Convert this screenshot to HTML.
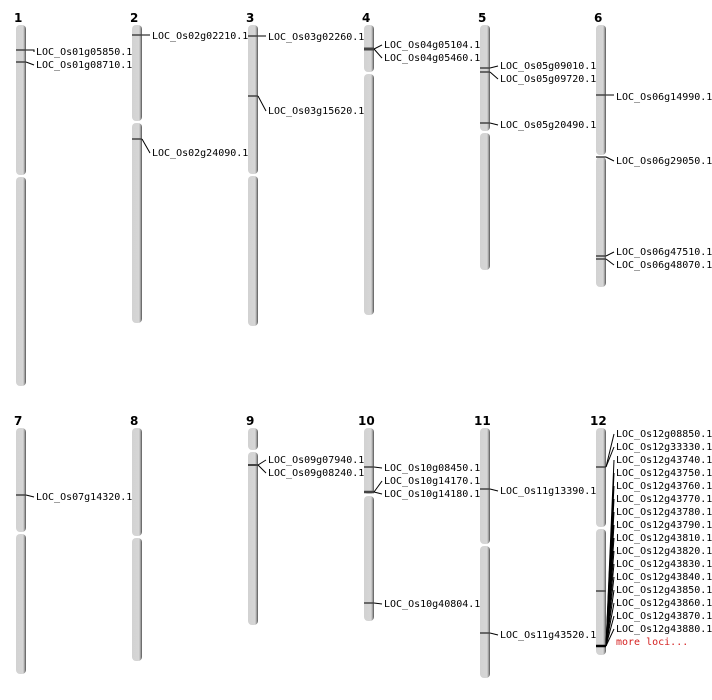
<!DOCTYPE html>
<html><head><meta charset="utf-8"><style>
html,body{margin:0;padding:0;background:#fff;width:712px;height:700px;overflow:hidden}
svg{display:block}
text{font-family:"DejaVu Sans Mono","Liberation Mono",monospace;font-size:10px;fill:#000}
.n{font-family:"DejaVu Sans","Liberation Sans",sans-serif;font-weight:bold;font-size:12px}
.m{stroke:#444;stroke-width:1.5}
.c{stroke:#000;stroke-width:1;fill:none}
</style></head><body>
<svg width="712" height="700" viewBox="0 0 712 700">
<defs>
<linearGradient id="g" x1="0" x2="1" y1="0" y2="0">
<stop offset="0" stop-color="#d2d2d2"/><stop offset="0.7" stop-color="#d6d6d6"/><stop offset="0.82" stop-color="#b0b0b0"/><stop offset="1" stop-color="#555"/>
</linearGradient>
</defs>
<g fill="url(#g)">
<!-- chr1 -->
<rect x="16" y="25" width="10" height="150" rx="4"/><rect x="16" y="177" width="10" height="209" rx="4"/>
<!-- chr2 -->
<rect x="132" y="25" width="10" height="96" rx="4"/><rect x="132" y="123" width="10" height="200" rx="4"/>
<!-- chr3 -->
<rect x="248" y="25" width="10" height="149" rx="4"/><rect x="248" y="176" width="10" height="150" rx="4"/>
<!-- chr4 -->
<rect x="364" y="25" width="10" height="47" rx="4"/><rect x="364" y="74" width="10" height="241" rx="4"/>
<!-- chr5 -->
<rect x="480" y="25" width="10" height="106" rx="4"/><rect x="480" y="133" width="10" height="137" rx="4"/>
<!-- chr6 -->
<rect x="596" y="25" width="10" height="130" rx="4"/><rect x="596" y="157" width="10" height="130" rx="4"/>
<!-- chr7 -->
<rect x="16" y="428" width="10" height="104" rx="4"/><rect x="16" y="534" width="10" height="140" rx="4"/>
<!-- chr8 -->
<rect x="132" y="428" width="10" height="108" rx="4"/><rect x="132" y="538" width="10" height="123" rx="4"/>
<!-- chr9 -->
<rect x="248" y="428" width="10" height="22" rx="4"/><rect x="248" y="452" width="10" height="173" rx="4"/>
<!-- chr10 -->
<rect x="364" y="428" width="10" height="66" rx="4"/><rect x="364" y="496" width="10" height="125" rx="4"/>
<!-- chr11 -->
<rect x="480" y="428" width="10" height="116" rx="4"/><rect x="480" y="546" width="10" height="132" rx="4"/>
<!-- chr12 -->
<rect x="596" y="428" width="10" height="99" rx="4"/><rect x="596" y="529" width="10" height="126" rx="4"/>
</g>
<g>
<text class="n" x="14" y="22">1</text><text class="n" x="130" y="22">2</text><text class="n" x="246" y="22">3</text>
<text class="n" x="362" y="22">4</text><text class="n" x="478" y="22">5</text><text class="n" x="594" y="22">6</text>
<text class="n" x="14" y="425">7</text><text class="n" x="130" y="425">8</text><text class="n" x="246" y="425">9</text>
<text class="n" x="358" y="425">10</text><text class="n" x="474" y="425">11</text><text class="n" x="590" y="425">12</text>
</g>
<!-- markers -->
<g class="m">
<line x1="16" x2="26" y1="50" y2="50"/><line x1="16" x2="26" y1="62" y2="62"/>
<line x1="132" x2="142" y1="35" y2="35"/><line x1="132" x2="142" y1="139" y2="139"/>
<line x1="248" x2="258" y1="36" y2="36"/><line x1="248" x2="258" y1="96" y2="96"/>
<line x1="364" x2="374" y1="49" y2="49" style="stroke-width:3"/>
<line x1="480" x2="490" y1="68" y2="68"/><line x1="480" x2="490" y1="72" y2="72"/><line x1="480" x2="490" y1="123" y2="123"/>
<line x1="596" x2="606" y1="95" y2="95"/><line x1="596" x2="606" y1="157" y2="157"/><line x1="596" x2="606" y1="256" y2="256"/><line x1="596" x2="606" y1="259" y2="259"/>
<line x1="16" x2="26" y1="495" y2="495"/>
<line x1="248" x2="258" y1="465" y2="465" style="stroke-width:2"/>
<line x1="364" x2="374" y1="467" y2="467"/><line x1="364" x2="374" y1="492" y2="492" style="stroke-width:2.5"/><line x1="364" x2="374" y1="603" y2="603"/>
<line x1="480" x2="490" y1="489" y2="489"/><line x1="480" x2="490" y1="633" y2="633"/>
<line x1="596" x2="606" y1="467" y2="467"/><line x1="596" x2="606" y1="591" y2="591"/><line x1="596" x2="606" y1="646" y2="646" style="stroke:#000;stroke-width:2.5"/>
</g>
<!-- connectors -->
<g class="c">
<path d="M26 50H34L34 52"/><path d="M26 62L34 65"/>
<path d="M142 35H150"/><path d="M142 139L150 153"/>
<path d="M258 36H266"/><path d="M258 96L266 111"/>
<path d="M374 49L382 45"/><path d="M374 49L382 58"/>
<path d="M490 68L498 66"/><path d="M490 72L498 79"/><path d="M490 123L498 125"/>
<path d="M606 95H614"/><path d="M606 157L614 161"/><path d="M606 256L614 252"/><path d="M606 259L614 265"/>
<path d="M26 495L34 497"/>
<path d="M258 465L266 460"/><path d="M258 465L266 473"/>
<path d="M374 467L382 468"/><path d="M374 492L382 481"/><path d="M374 492L382 494"/><path d="M374 603L382 604"/>
<path d="M490 489L498 491"/><path d="M490 633L498 635"/>
<path d="M606 467L614 434"/><path d="M606 467L614 447"/>
<path d="M606 646L614 460"/><path d="M606 646L614 473"/><path d="M606 646L614 486"/><path d="M606 646L614 499"/>
<path d="M606 646L614 512"/><path d="M606 646L614 525"/><path d="M606 646L614 538"/><path d="M606 646L614 551"/>
<path d="M606 646L614 564"/><path d="M606 646L614 577"/><path d="M606 646L614 590"/><path d="M606 646L614 603"/>
<path d="M606 646L614 616"/><path d="M606 646L614 629"/>
</g>
<g dominant-baseline="middle">
<text x="36" y="52">LOC_Os01g05850.1</text><text x="36" y="65">LOC_Os01g08710.1</text>
<text x="152" y="36">LOC_Os02g02210.1</text><text x="152" y="153">LOC_Os02g24090.1</text>
<text x="268" y="37">LOC_Os03g02260.1</text><text x="268" y="111">LOC_Os03g15620.1</text>
<text x="384" y="45">LOC_Os04g05104.1</text><text x="384" y="58">LOC_Os04g05460.1</text>
<text x="500" y="66">LOC_Os05g09010.1</text><text x="500" y="79">LOC_Os05g09720.1</text><text x="500" y="125">LOC_Os05g20490.1</text>
<text x="616" y="97">LOC_Os06g14990.1</text><text x="616" y="161">LOC_Os06g29050.1</text>
<text x="616" y="252">LOC_Os06g47510.1</text><text x="616" y="265">LOC_Os06g48070.1</text>
<text x="36" y="497">LOC_Os07g14320.1</text>
<text x="268" y="460">LOC_Os09g07940.1</text><text x="268" y="473">LOC_Os09g08240.1</text>
<text x="384" y="468">LOC_Os10g08450.1</text><text x="384" y="481">LOC_Os10g14170.1</text><text x="384" y="494">LOC_Os10g14180.1</text><text x="384" y="604">LOC_Os10g40804.1</text>
<text x="500" y="491">LOC_Os11g13390.1</text><text x="500" y="635">LOC_Os11g43520.1</text>
<text x="616" y="434">LOC_Os12g08850.1</text><text x="616" y="447">LOC_Os12g33330.1</text>
<text x="616" y="460">LOC_Os12g43740.1</text><text x="616" y="473">LOC_Os12g43750.1</text>
<text x="616" y="486">LOC_Os12g43760.1</text><text x="616" y="499">LOC_Os12g43770.1</text>
<text x="616" y="512">LOC_Os12g43780.1</text><text x="616" y="525">LOC_Os12g43790.1</text>
<text x="616" y="538">LOC_Os12g43810.1</text><text x="616" y="551">LOC_Os12g43820.1</text>
<text x="616" y="564">LOC_Os12g43830.1</text><text x="616" y="577">LOC_Os12g43840.1</text>
<text x="616" y="590">LOC_Os12g43850.1</text><text x="616" y="603">LOC_Os12g43860.1</text>
<text x="616" y="616">LOC_Os12g43870.1</text><text x="616" y="629">LOC_Os12g43880.1</text>
<text x="616" y="642" style="fill:#d42020">more loci...</text>
</g>
</svg>
</body></html>
